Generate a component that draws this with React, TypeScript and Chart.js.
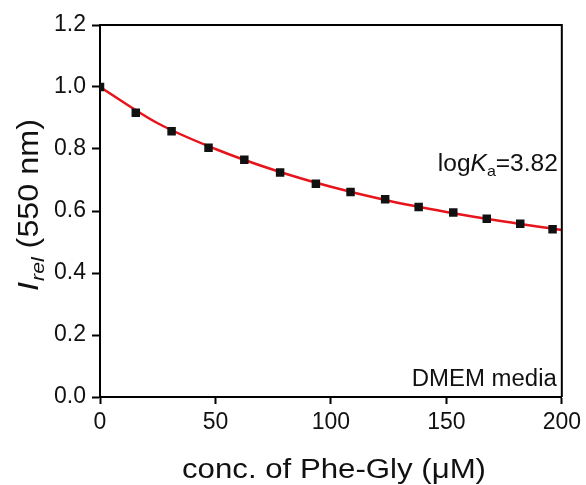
import React, { useEffect, useRef } from "react";
import { Chart, registerables } from "chart.js";

Chart.register(...registerables);

const concentrations = [0, 15.5, 31, 47, 62.5, 78, 93.5, 108.5, 123.5, 138, 153, 167.5, 182, 196];
const intensities = [1.0, 0.917, 0.857, 0.804, 0.765, 0.724, 0.688, 0.661, 0.638, 0.613, 0.595, 0.575, 0.559, 0.541];
const fitX = [0, 25, 50, 75, 100, 125, 150, 175, 200];
const fitY = [1.0, 0.883, 0.8, 0.733, 0.678, 0.633, 0.597, 0.566, 0.539];
const xTicks = [0, 50, 100, 150, 200];
const yTicks = [0, 0.2, 0.4, 0.6, 0.8, 1.0, 1.2];

const FONT = "'Liberation Sans', Arial, sans-serif";

type Part = { t: string; font: string; dy: number; gap?: number };

function drawParts(ctx: CanvasRenderingContext2D, parts: Part[], targetWidth: number, align: "center" | "right") {
  // draws at origin (0,0 baseline); stretches horizontally to targetWidth
  ctx.textAlign = "left";
  ctx.textBaseline = "alphabetic";
  const widths = parts.map((p) => {
    ctx.font = p.font;
    return ctx.measureText(p.t).width + (p.gap || 0);
  });
  const total = widths.reduce((a, b) => a + b, 0);
  const sx = targetWidth / total;
  ctx.save();
  ctx.scale(sx, 1);
  let x = align === "center" ? -total / 2 : -total;
  parts.forEach((p, i) => {
    ctx.font = p.font;
    ctx.fillText(p.t, x + (p.gap || 0), p.dy);
    x += widths[i];
  });
  ctx.restore();
}

const annotations = {
  id: "annotations",
  afterDraw(chart: any) {
    const ctx = chart.ctx as CanvasRenderingContext2D;
    const a = chart.chartArea;
    ctx.save();
    // frame top & right
    ctx.strokeStyle = "#000";
    ctx.lineWidth = 2;
    ctx.beginPath();
    ctx.moveTo(a.left, a.top);
    ctx.lineTo(a.right, a.top);
    ctx.lineTo(a.right, a.bottom);
    ctx.stroke();

    ctx.fillStyle = "#111";

    // x title
    ctx.save();
    ctx.translate(334, 478);
    drawParts(ctx, [{ t: "conc. of Phe-Gly (\u03bcM)", font: `27px ${FONT}`, dy: 0 }], 304, "center");
    ctx.restore();

    // y title rotated
    ctx.save();
    ctx.translate(38, 205);
    ctx.rotate(-Math.PI / 2);
    drawParts(
      ctx,
      [
        { t: "I", font: `italic 29px ${FONT}`, dy: 0 },
        { t: "rel", font: `italic 19px ${FONT}`, dy: 6, gap: 1 },
        { t: " (550 nm)", font: `29px ${FONT}`, dy: 0 },
      ],
      172,
      "center"
    );
    ctx.restore();

    // logKa label
    ctx.save();
    ctx.translate(a.right - 4, 171);
    drawParts(
      ctx,
      [
        { t: "log", font: `23px ${FONT}`, dy: 0 },
        { t: "K", font: `italic 23px ${FONT}`, dy: 0 },
        { t: "a", font: `15px ${FONT}`, dy: 5 },
        { t: "=3.82", font: `23px ${FONT}`, dy: 0 },
      ],
      120,
      "right"
    );
    ctx.restore();

    // DMEM media
    ctx.save();
    ctx.translate(a.right - 5, 386);
    drawParts(ctx, [{ t: "DMEM media", font: `23px ${FONT}`, dy: 0 }], 145, "right");
    ctx.restore();

    ctx.restore();
  },
};

export default function App() {
  const ref = useRef<HTMLCanvasElement>(null);
  useEffect(() => {
    document.body.style.margin = "0";
    const chart = new Chart(ref.current!, {
      type: "scatter",
      data: {
        datasets: [
          {
            type: "scatter",
            data: concentrations.map((c, i) => ({ x: c, y: intensities[i] })),
            pointStyle: "rect",
            pointRadius: 6,
            backgroundColor: "#111",
            borderColor: "#111",
            borderWidth: 0,
            order: 0,
          },
          {
            type: "line",
            data: fitX.map((c, i) => ({ x: c, y: fitY[i] })),
            borderColor: "#e8141c",
            borderWidth: 2.5,
            pointRadius: 0,
            cubicInterpolationMode: "monotone",
            fill: false,
            order: 1,
          } as any,
        ],
      },
      options: {
        animation: false,
        responsive: false,
        devicePixelRatio: 1,
        layout: { padding: { top: 25, right: 24, left: 0, bottom: 0 } },
        plugins: { legend: { display: false }, tooltip: { enabled: false } },
        scales: {
          x: {
            type: "linear",
            min: 0,
            max: 200,
            afterBuildTicks: (s: any) => {
              s.ticks = xTicks.map((v) => ({ value: v }));
            },
            afterFit: (s: any) => {
              s.height = 88;
            },
            border: { display: true, color: "#000", width: 2 },
            grid: { drawOnChartArea: false, drawTicks: true, tickLength: 7, tickWidth: 2, tickColor: "#000" },
            ticks: { color: "#111", font: { family: FONT, size: 23 }, padding: 5, maxRotation: 0 },
          },
          y: {
            type: "linear",
            min: 0,
            max: 1.2,
            afterBuildTicks: (s: any) => {
              s.ticks = yTicks.map((v) => ({ value: v }));
            },
            afterFit: (s: any) => {
              s.width = 100;
            },
            border: { display: true, color: "#000", width: 2 },
            grid: { drawOnChartArea: false, drawTicks: true, tickLength: 8, tickWidth: 2, tickColor: "#000" },
            ticks: {
              color: "#111",
              font: { family: FONT, size: 23 },
              padding: 6,
              callback: (v: any) => Number(v).toFixed(1),
            },
          },
        },
      },
      plugins: [annotations],
    });
    return () => chart.destroy();
  }, []);
  return <canvas ref={ref} width={586} height={485} style={{ display: "block" }} />;
}
